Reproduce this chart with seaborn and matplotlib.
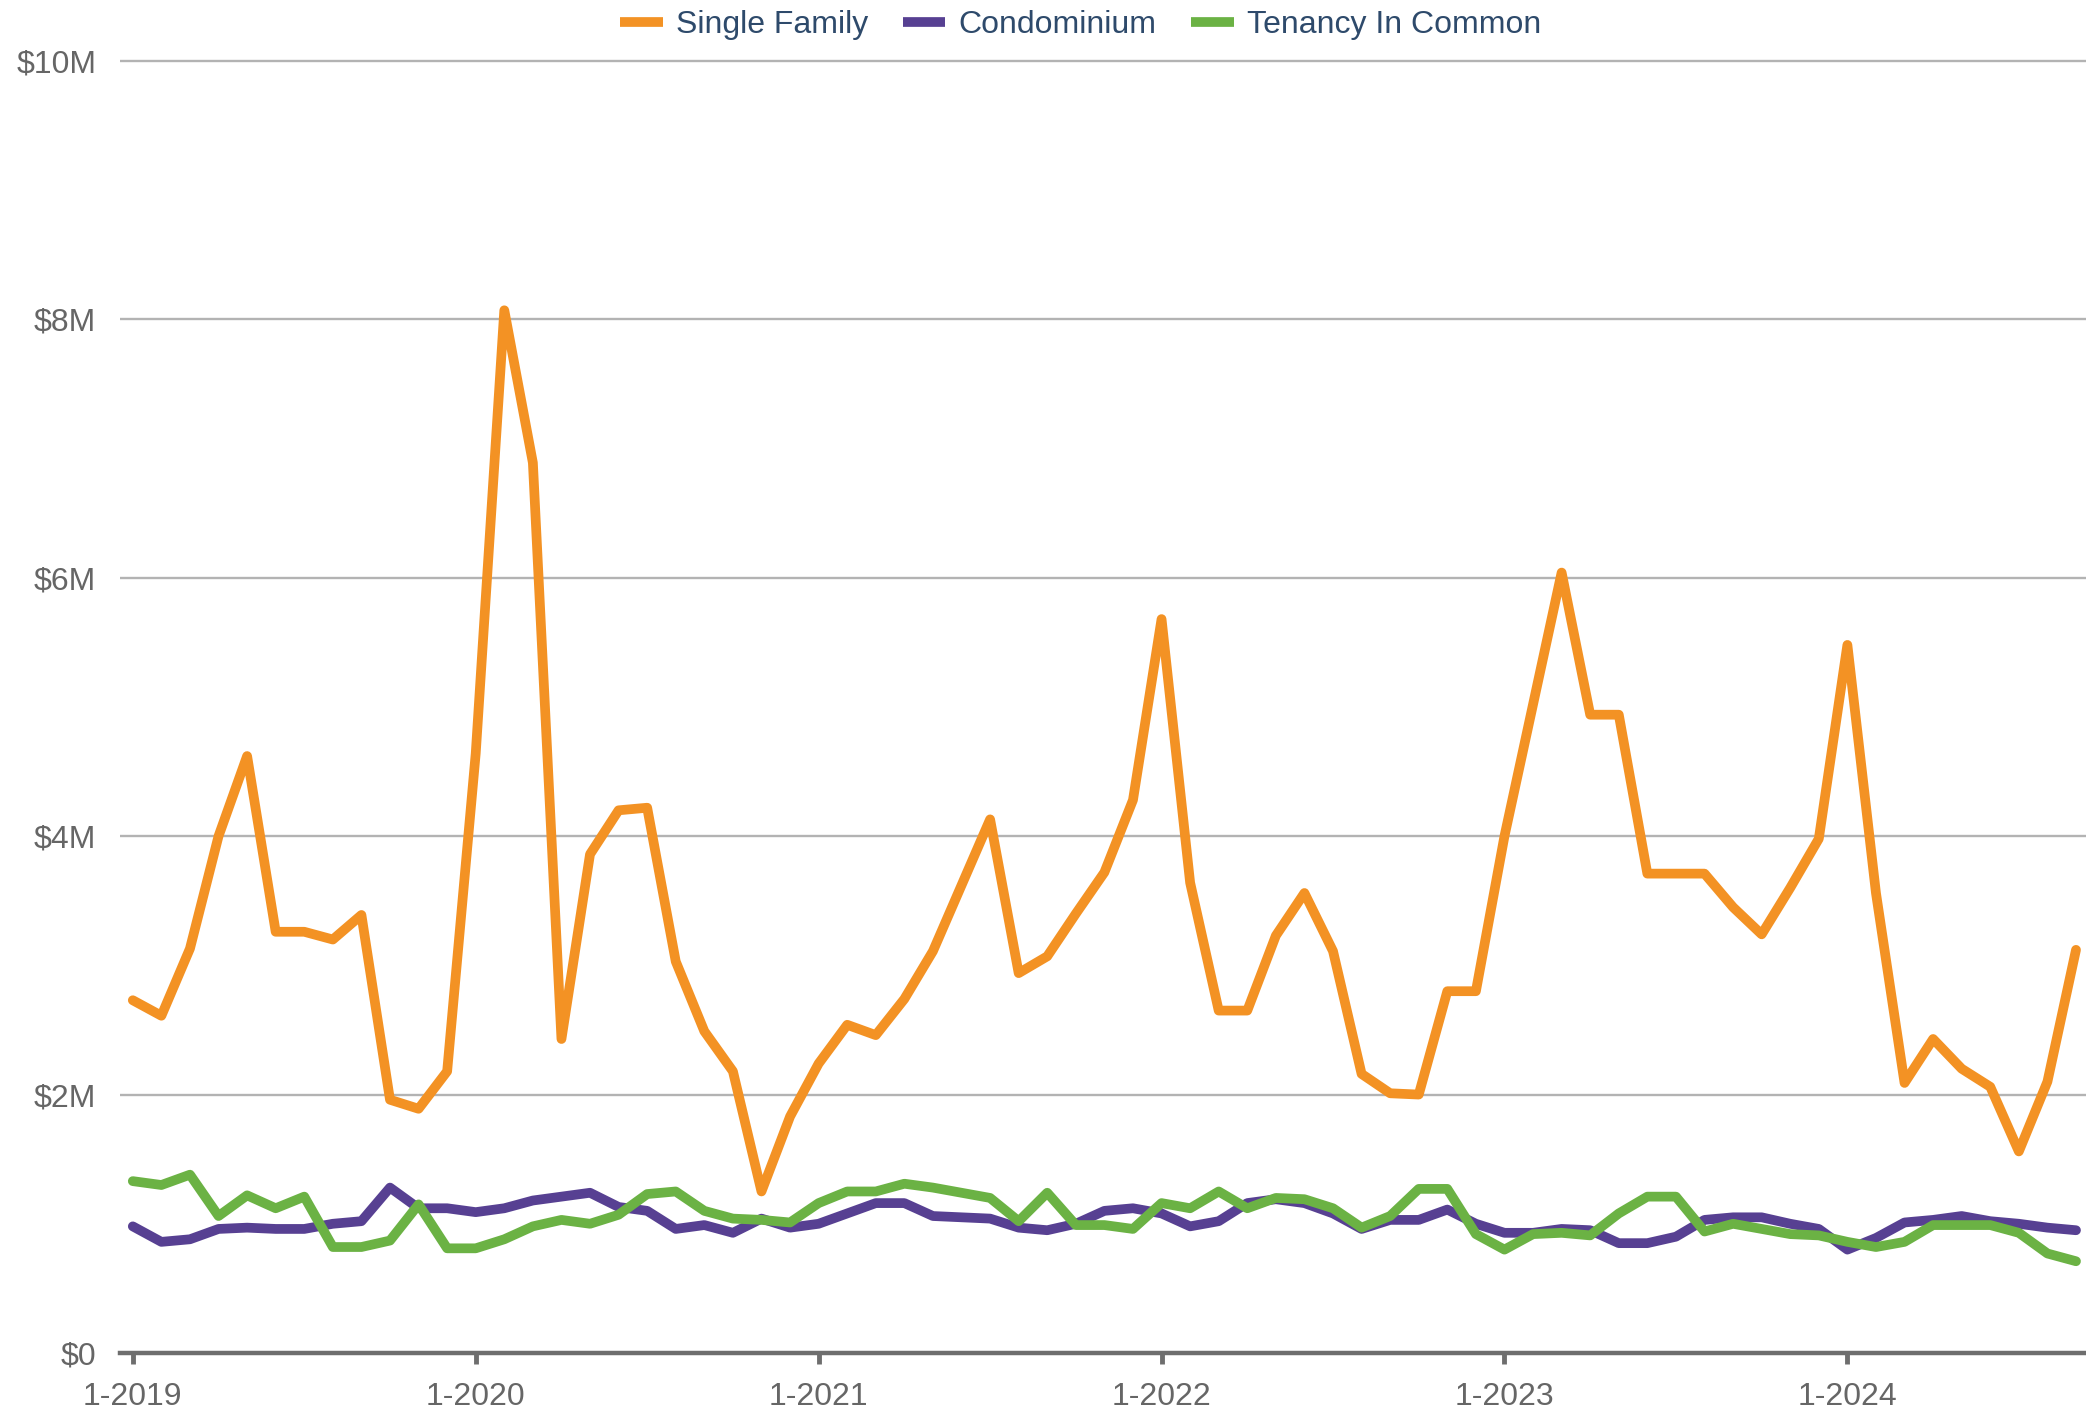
import matplotlib
matplotlib.use("Agg")
import matplotlib.pyplot as plt
from matplotlib.lines import Line2D
import numpy as np
import pandas as pd
import seaborn as sns

# Median sale price by month, Jan 2019 - Sep 2024 (millions of dollars)
single_family = [
    2.73, 2.61, 3.13, 4.00, 4.62, 3.26, 3.26, 3.20, 3.39, 1.96, 1.89, 2.18,
    4.64, 8.07, 6.89, 2.43, 3.86, 4.20, 4.22, 3.03, 2.49, 2.18, 1.25, 1.83,
    2.24, 2.54, 2.46, 2.74, 3.11, 3.62, 4.13, 2.94, 3.07, 3.40, 3.72, 4.28,
    5.68, 3.64, 2.65, 2.65, 3.23, 3.56, 3.11, 2.16, 2.01, 2.00, 2.80, 2.80,
    4.00, 5.02, 6.04, 4.94, 4.94, 3.71, 3.71, 3.71, 3.45, 3.24, 3.60, 3.98,
    5.48, 3.56, 2.09, 2.43, 2.20, 2.06, 1.56, 2.10, 3.12,
]
condominium = [
    0.98, 0.86, 0.88, 0.96, 0.97, 0.96, 0.96, 1.00, 1.02, 1.28, 1.12, 1.12,
    1.09, 1.12, 1.18, 1.21, 1.24, 1.13, 1.10, 0.96, 0.99, 0.93, 1.04, 0.97,
    1.00, 1.08, 1.16, 1.16, 1.06, 1.05, 1.04, 0.97, 0.95, 1.00, 1.10, 1.12,
    1.08, 0.98, 1.02, 1.16, 1.19, 1.16, 1.08, 0.96, 1.03, 1.03, 1.11, 1.00,
    0.93, 0.93, 0.96, 0.95, 0.85, 0.85, 0.90, 1.03, 1.05, 1.05, 1.00, 0.96,
    0.80, 0.89, 1.01, 1.03, 1.06, 1.02, 1.00, 0.97, 0.95,
]
tenancy_in_common = [
    1.33, 1.30, 1.38, 1.06, 1.22, 1.12, 1.21, 0.82, 0.82, 0.87, 1.15, 0.81,
    0.81, 0.88, 0.98, 1.03, 1.00, 1.07, 1.23, 1.25, 1.10, 1.04, 1.03, 1.01,
    1.16, 1.25, 1.25, 1.31, 1.28, 1.24, 1.20, 1.02, 1.24, 0.99, 0.99, 0.96,
    1.16, 1.12, 1.25, 1.12, 1.20, 1.19, 1.12, 0.97, 1.06, 1.27, 1.27, 0.92,
    0.80, 0.92, 0.93, 0.91, 1.08, 1.21, 1.21, 0.94, 1.00, 0.96, 0.92, 0.91,
    0.86, 0.82, 0.86, 0.99, 0.99, 0.99, 0.93, 0.77, 0.71,
]
series_names = ["Single Family", "Condominium", "Tenancy In Common"]
series_colors = ["#F39224", "#574092", "#6BB244"]
year_labels = ["1-2019", "1-2020", "1-2021", "1-2022", "1-2023", "1-2024"]
y_ticks = [0, 2, 4, 6, 8, 10]
y_labels = ["$0", "$2M", "$4M", "$6M", "$8M", "$10M"]

months = np.arange(len(single_family))
df = pd.concat([
    pd.DataFrame({"month": months, "price": np.array(vals) * 1e6, "type": name})
    for name, vals in zip(series_names, [single_family, condominium, tenancy_in_common])
], ignore_index=True)

sns.set_theme(style="white")
plt.rcParams["font.family"] = ["Liberation Sans", "DejaVu Sans"]

fig = plt.figure(figsize=(20.86, 14.12), dpi=100)
ax = fig.add_axes([0.0575, 0.0418, 0.9425, 0.9178])

sns.lineplot(
    data=df, x="month", y="price", hue="type", hue_order=series_names,
    palette=series_colors, linewidth=7, ax=ax, legend=False,
    solid_capstyle="round", solid_joinstyle="round",
)

ax.set_xlim(-0.45, 68.35)
ax.set_ylim(0, 10.03e6)
ax.set_yticks([v * 1e6 for v in y_ticks])
ax.set_yticklabels(y_labels)
ax.set_xticks(np.arange(0, 12 * len(year_labels), 12))
ax.set_xticklabels(year_labels)
ax.set_xlabel("")
ax.set_ylabel("")

ax.grid(axis="y", color="#B3B3B3", linewidth=1.7)
ax.grid(axis="x", visible=False)
ax.set_axisbelow(True)
for side in ["top", "right", "left"]:
    ax.spines[side].set_visible(False)
ax.spines["bottom"].set_color("#6E6E6E")
ax.spines["bottom"].set_linewidth(3.2)
ax.spines["bottom"].set_zorder(5)

ax.tick_params(axis="y", length=0, pad=17, labelsize=23, labelcolor="#666666")
ax.tick_params(axis="x", direction="out", length=8, width=3.5, color="#6E6E6E",
               pad=13, labelsize=23, labelcolor="#666666", bottom=True)

handles = [Line2D([0], [0], color=c, linewidth=7, solid_capstyle="butt") for c in series_colors]
leg = fig.legend(
    handles, series_names, loc="center", bbox_to_anchor=(0.518, 0.982), ncol=3,
    frameon=False, fontsize=23, handlelength=1.34, handletextpad=0.41,
    columnspacing=1.08, borderaxespad=0, borderpad=0,
)
for t in leg.get_texts():
    t.set_color("#2E4A6B")

fig.savefig("out.png", dpi=100)
